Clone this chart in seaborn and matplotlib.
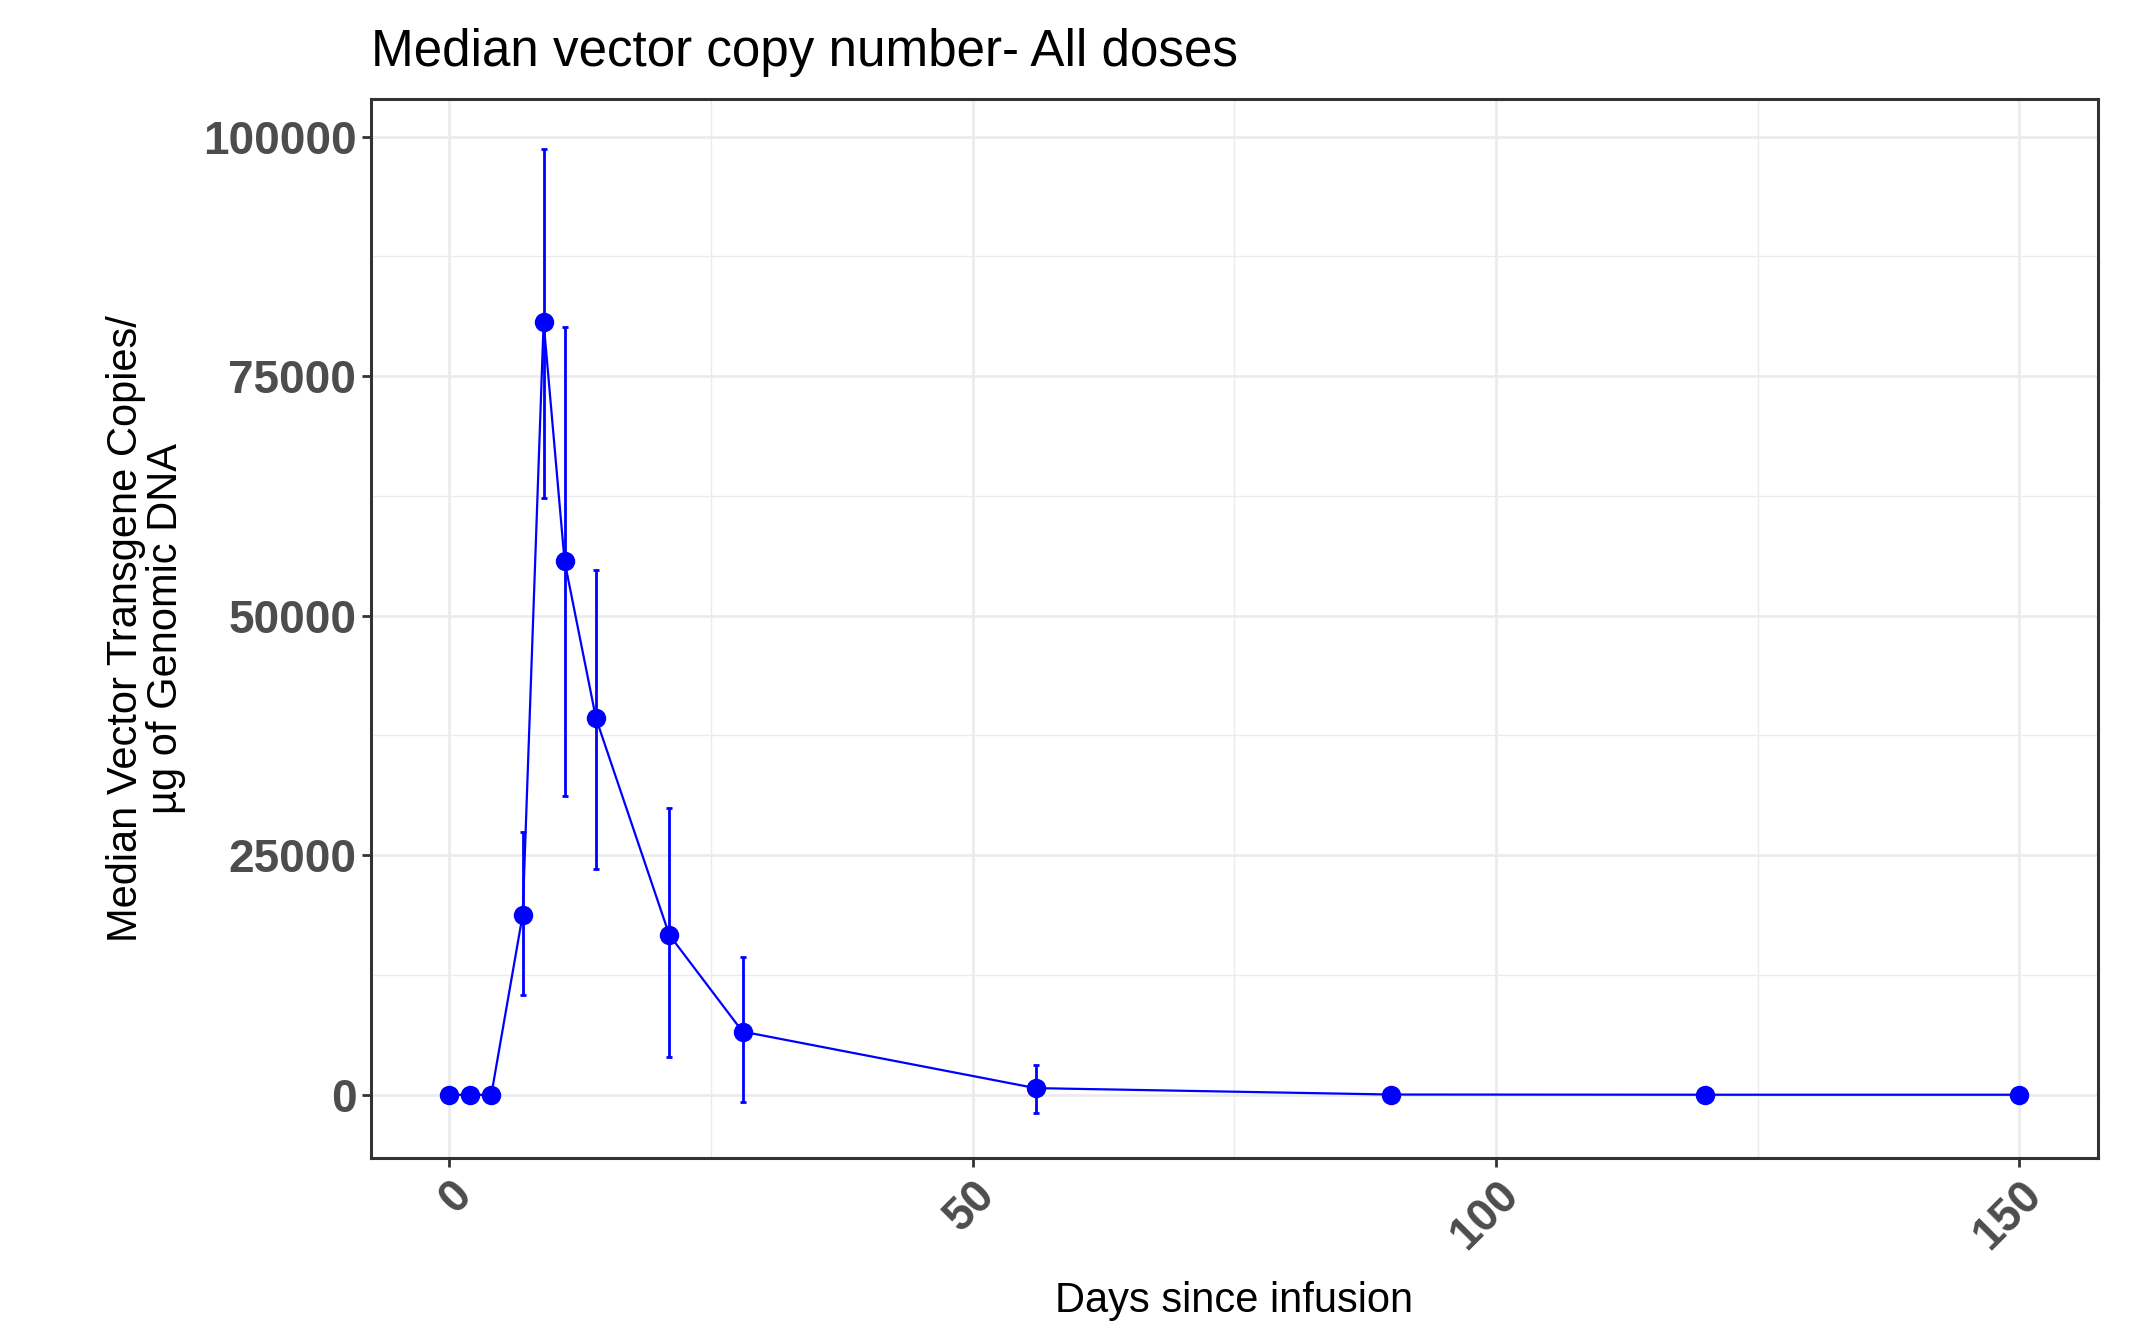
import matplotlib
matplotlib.use("Agg")
import matplotlib.pyplot as plt
from matplotlib.ticker import MultipleLocator
import pandas as pd
import seaborn as sns

# valores
days = [0, 2, 4, 7, 9, 11, 14, 21, 28, 56, 90, 120, 150]
median_vcn = [0, 0, 0, 18800, 80600, 55700, 39300, 16700, 6600, 700, 30, 10, 10]
lower_vcn = [0, 0, 0, 10400, 62300, 31200, 23600, 3900, -800, -1900, 30, 10, 10]
upper_vcn = [0, 0, 0, 27400, 98700, 80100, 54800, 29900, 14400, 3100, 30, 10, 10]

x_ticks = [0, 50, 100, 150]
y_ticks = [0, 25000, 50000, 75000, 100000]

df = pd.DataFrame({"day": days, "vcn": median_vcn, "lo": lower_vcn, "hi": upper_vcn})

sns.set_theme(style="white")
plt.rcParams["font.family"] = ["Liberation Sans", "DejaVu Sans"]

fig = plt.figure(figsize=(21.54, 13.22), dpi=100)
ax = fig.add_axes([0.1722, 0.124, 0.8018, 0.801])

# barras de error
ax.errorbar(df["day"], df["vcn"],
            yerr=[df["vcn"] - df["lo"], df["hi"] - df["vcn"]],
            fmt="none", ecolor="blue", elinewidth=2.0, capsize=2, capthick=2.0, zorder=3)

sns.lineplot(data=df, x="day", y="vcn", color="blue", linewidth=1.6,
             marker="o", markersize=14, markeredgewidth=0, ax=ax, zorder=4)

ax.set_xlim(-7.5, 157.5)
ax.set_ylim(-6600, 103900)
ax.set_xticks(x_ticks)
ax.set_yticks(y_ticks)
ax.xaxis.set_minor_locator(MultipleLocator(25))
ax.yaxis.set_minor_locator(MultipleLocator(12500))

ax.grid(which="major", color="#EBEBEB", linewidth=1.9)
ax.grid(which="minor", color="#EBEBEB", linewidth=1.0)
ax.set_axisbelow(True)

for s in ax.spines.values():
    s.set_color("#333333")
    s.set_linewidth(2.2)

ax.tick_params(axis="both", which="major", length=6.5, width=2, color="#333333",
               labelsize=33, labelcolor="#4D4D4D", pad=4)
ax.tick_params(axis="both", which="minor", length=0)
ax.tick_params(axis="both", which="both", bottom=True, left=True)

for lab in ax.get_yticklabels():
    lab.set_fontweight("bold")
ax.set_xticks(x_ticks, [str(t) for t in x_ticks], rotation=45, ha="right",
              rotation_mode="anchor", fontweight="bold")

ax.set_title("Median vector copy number- All doses", loc="left", fontsize=36.8, pad=24,
             color="black")
ax.set_xlabel("Days since infusion", fontsize=30, color="black")
ax.set_ylabel("Median Vector Transgene Copies/\nµg of Genomic DNA", fontsize=30,
              color="black", linespacing=1.0)
ax.yaxis.label.set_va("center")
ax.yaxis.set_label_coords(-0.13, 0.5)
ax.xaxis.label.set_va("center")
ax.xaxis.set_label_coords(0.5, -0.135)

fig.savefig("out.png", dpi=100)
